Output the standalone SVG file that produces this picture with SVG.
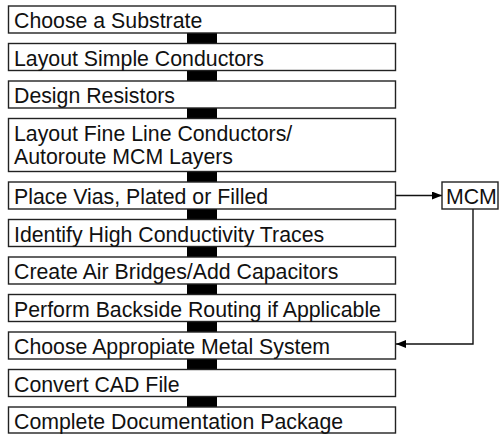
<svg xmlns="http://www.w3.org/2000/svg" width="500" height="434" viewBox="0 0 500 434">
<style>
.box{fill:#fff;stroke:#222;stroke-width:1.4}
.bar{fill:#000}
.t{font-family:"Liberation Sans",Arial,sans-serif;font-size:21.3px;fill:#111}
.ln{fill:none;stroke:#111;stroke-width:1.4}
</style>
<defs>
<marker id="ah" viewBox="0 0 10 8" refX="10" refY="4" markerWidth="10" markerHeight="8" markerUnits="userSpaceOnUse" orient="auto">
<path d="M0,0 L10,4 L0,8 Z" fill="#000"/>
</marker>
</defs>
<g id="connectors">
<rect class="bar" x="187" y="33" width="30" height="10.5"/>
<rect class="bar" x="187" y="70.5" width="30" height="10.5"/>
<rect class="bar" x="187" y="108" width="30" height="10.5"/>
<rect class="bar" x="187" y="171.5" width="30" height="10.5"/>
<rect class="bar" x="187" y="209" width="30" height="10.5"/>
<rect class="bar" x="187" y="246.5" width="30" height="10.5"/>
<rect class="bar" x="187" y="284" width="30" height="10.5"/>
<rect class="bar" x="187" y="321.5" width="30" height="10.5"/>
<rect class="bar" x="187" y="359" width="30" height="10.5"/>
<rect class="bar" x="187" y="396.5" width="30" height="10.5"/>
<path class="ln" d="M395.5,195.5 H442" marker-end="url(#ah)"/>
<path class="ln" d="M473,209 V344 H396" marker-end="url(#ah)"/>
</g>
<g id="n1"><rect class="box" x="8.5" y="6" width="387" height="27"/><text class="t" x="14" y="28">Choose a Substrate</text></g>
<g id="n2"><rect class="box" x="8.5" y="43.5" width="387" height="27"/><text class="t" x="14" y="65.5">Layout Simple Conductors</text></g>
<g id="n3"><rect class="box" x="8.5" y="81" width="387" height="27"/><text class="t" x="14" y="103">Design Resistors</text></g>
<g id="n4"><rect class="box" x="8.5" y="118.5" width="387" height="53"/><text class="t" x="14" y="140.5">Layout Fine Line Conductors/</text><text class="t" x="14" y="164">Autoroute MCM Layers</text></g>
<g id="n5"><rect class="box" x="8.5" y="182" width="387" height="27"/><text class="t" x="14" y="204">Place Vias, Plated or Filled</text></g>
<g id="n6"><rect class="box" x="8.5" y="219.5" width="387" height="27"/><text class="t" x="14" y="241.5">Identify High Conductivity Traces</text></g>
<g id="n7"><rect class="box" x="8.5" y="257" width="387" height="27"/><text class="t" x="14" y="279">Create Air Bridges/Add Capacitors</text></g>
<g id="n8"><rect class="box" x="8.5" y="294.5" width="387" height="27"/><text class="t" x="14" y="316.5">Perform Backside Routing if Applicable</text></g>
<g id="n9"><rect class="box" x="8.5" y="332" width="387" height="27"/><text class="t" x="14" y="354">Choose Appropiate Metal System</text></g>
<g id="n10"><rect class="box" x="8.5" y="369.5" width="387" height="27"/><text class="t" x="14" y="391.5">Convert CAD File</text></g>
<g id="n11"><rect class="box" x="8.5" y="407" width="387" height="26"/><text class="t" x="14" y="428.5">Complete Documentation Package</text></g>
<g id="mcm"><rect class="box" x="442" y="182" width="56" height="27"/><text class="t" x="446" y="204">MCM</text></g>
</svg>
